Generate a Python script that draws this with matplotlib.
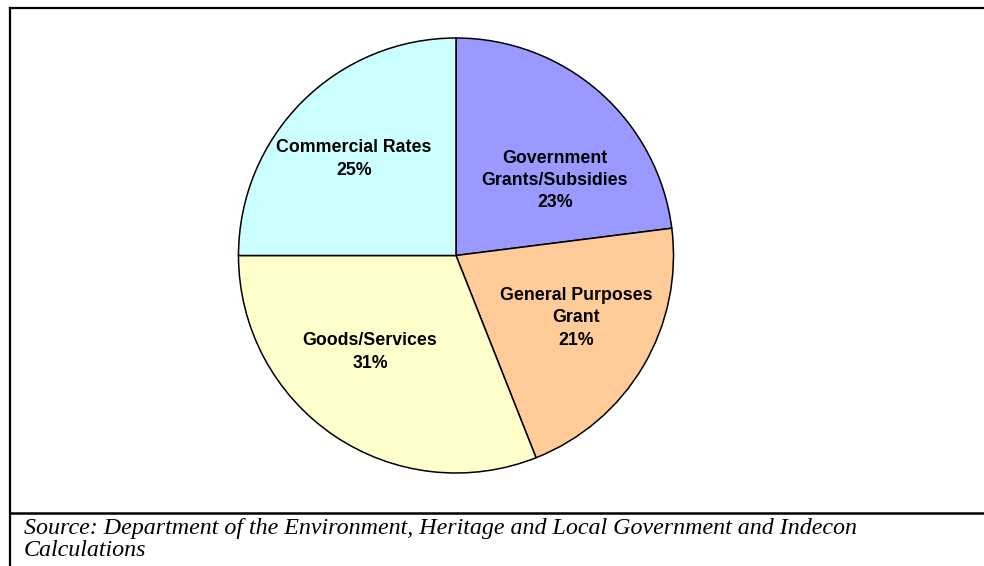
import matplotlib.pyplot as plt
from matplotlib.lines import Line2D

# income shares by source (%)
sources = ["Government\nGrants/Subsidies", "General Purposes\nGrant", "Goods/Services", "Commercial Rates"]
shares = [23, 21, 31, 25]
colours = ["#9999FF", "#FFCC99", "#FFFFCC", "#CCFFFF"]

W, H = 984, 566
fig = plt.figure(figsize=(W / 100, H / 100), dpi=100)

cx, cy, r = 456, 255.5, 217.5
ax = fig.add_axes([(cx - r) / W, (H - cy - r) / H, 2 * r / W, 2 * r / H])
ax.pie(shares, colors=colours, startangle=90, counterclock=False, radius=1,
       wedgeprops=dict(edgecolor="black", linewidth=1.1))
ax.set_xlim(-1.0, 1.0)
ax.set_ylim(-1.0, 1.0)
ax.set_aspect("equal")
ax.axis("off")

# label centres inside each slice, in pixels
label_px = [(555, 180.5), (576, 318), (370, 352), (354, 159)]
for name, val, (px, py) in zip(sources, shares, label_px):
    ax.text((px - cx) / r, (cy - py) / r, f"{name}\n{val}%", ha="center", va="center",
            fontsize=12.8, fontweight="bold", family="Liberation Sans",
            linespacing=1.4)

# frame around the chart and the source note
def fig_line(xs, ys, lw=1.6):
    fig.add_artist(Line2D([x / W for x in xs], [1 - y / H for y in ys],
                          color="black", linewidth=lw))

fig_line([10, 10], [8, H])
fig_line([10, W], [8, 8])
fig_line([10, W], [512.5, 512.5], lw=1.8)

note = ["Source: Department of the Environment, Heritage and Local Government and Indecon",
        "Calculations"]
for line, base in zip(note, [534, 556]):
    fig.text(24 / W, 1 - base / H, line, ha="left", va="baseline",
             fontsize=17.3, style="italic", family="Liberation Serif")

fig.savefig("out.png", dpi=100)
